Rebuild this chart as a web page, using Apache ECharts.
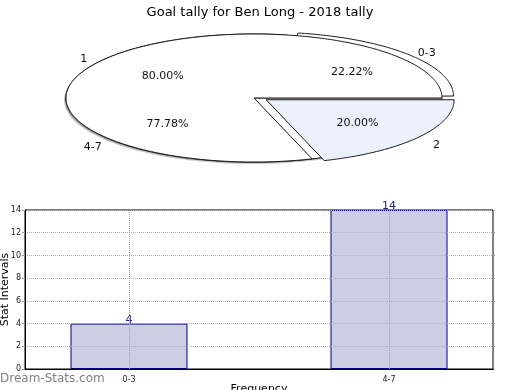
<!DOCTYPE html>
<html>
<head>
<meta charset="utf-8">
<script src="https://cdn.jsdelivr.net/npm/echarts@6/dist/echarts.min.js"></script>
<style>
html,body{margin:0;padding:0;background:#fff;}
#chart{width:520px;height:390px;}
</style>
</head>
<body>
<div id="chart"></div>
<script>
// ---- data ----
const chartTitle = 'Goal tally for Ben Long - 2018 tally';
const pieANames = ['0-3', '4-7'];
const pieAValues = [4, 14];
const pieBNames = ['1', '2'];
const pieBValues = [4, 1];
const barCategories = ['0-3', '4-7'];
const barValues = [4, 14];
const yAxisName = 'Stat Intervals';
const xAxisName = 'Frequency';
const watermark = 'Dream-Stats.com';

// ---- pie geometry (ellipse) ----
const CX = 254, CY = 98, RX = 188, RY = 64, EXPLODE = 15;
const FONT = '"DejaVu Sans", sans-serif';

function sliceGeom(values, i, explodeIdx) {
  const total = values.reduce((a, b) => a + b, 0);
  let start = 0;
  for (let j = 0; j < i; j++) start += values[j];
  const a0 = start / total * Math.PI * 2;
  const a1 = (start + values[i]) / total * Math.PI * 2;
  const mid = (a0 + a1) / 2;
  let ox = 0, oy = 0;
  if (explodeIdx.indexOf(i) >= 0) {
    ox = EXPLODE * Math.cos(mid);
    oy = -EXPLODE * Math.sin(mid) * 0.2;
  }
  return { cx: CX + ox, cy: CY + oy, a0, a1, mid, pct: values[i] / total * 100 };
}

function pieShapes(values, explodeIdx, fills) {
  return function (params, api) {
    const i = params.dataIndex;
    const g = sliceGeom(values, i, explodeIdx);
    const pts = [[g.cx, g.cy]];
    const steps = Math.max(2, Math.ceil((g.a1 - g.a0) / (Math.PI / 180)));
    for (let k = 0; k <= steps; k++) {
      const a = g.a0 + (g.a1 - g.a0) * k / steps;
      pts.push([g.cx + RX * Math.cos(a), g.cy - RY * Math.sin(a)]);
    }
    return {
      type: 'polygon',
      shape: { points: pts },
      style: { fill: fills[i], stroke: '#1a1a1a', lineWidth: 1 }
    };
  };
}

function pieLabels(values, names, explodeIdx) {
  return function (params, api) {
    const i = params.dataIndex;
    const g = sliceGeom(values, i, explodeIdx);
    const c = Math.cos(g.mid), s = Math.sin(g.mid);
    return {
      type: 'group',
      children: [
        { type: 'text', x: g.cx + RX * 0.6 * c, y: g.cy - RY * 0.6 * s + 1,
          style: { text: g.pct.toFixed(2) + '%', fill: '#111', font: '11px ' + FONT, align: 'center', verticalAlign: 'middle' } },
        { type: 'text', x: g.cx + RX * 1.12 * c, y: g.cy - RY * 1.12 * s + 3,
          style: { text: names[i], fill: '#111', font: '11px ' + FONT, align: 'center', verticalAlign: 'middle' } }
      ]
    };
  };
}

function shadowShape(offX, offY, color) {
  return function () {
    const pts = [];
    for (let k = 0; k <= 360; k += 2) {
      const a = k * Math.PI / 180;
      pts.push([CX + offX + RX * Math.cos(a), CY + offY - RY * Math.sin(a)]);
    }
    return { type: 'polygon', shape: { points: pts }, style: { fill: color } };
  };
}

const catIdx = barCategories.map((c, i) => i);

const chart = echarts.init(document.getElementById('chart'), null, { renderer: 'canvas' });
chart.setOption({
  animation: false,
  backgroundColor: '#fff',
  title: {
    text: chartTitle, left: 'center', top: 1,
    textStyle: { fontSize: 13, fontWeight: 'normal', color: '#000', fontFamily: FONT }
  },
  graphic: [{
    type: 'text', left: 0, top: 373,
    style: { text: watermark, fill: '#808080', font: '12px ' + FONT }
  }],
  grid: { left: 25, right: 27, top: 210, bottom: 21, outerBoundsMode: 'none', containLabel: false,
    show: true, borderColor: '#000', borderWidth: 1, backgroundColor: '#fff' },
  xAxis: {
    type: 'value', min: -0.4, max: 1.4, z: 5,
    axisLine: { show: true, onZero: false, lineStyle: { color: '#000', width: 1 } },
    axisTick: { show: false },
    splitLine: { show: false },
    axisLabel: { fontSize: 8, color: '#222', fontFamily: FONT, margin: 7,
      customValues: catIdx, formatter: v => barCategories[Math.round(v)] },
    name: xAxisName, nameLocation: 'middle', nameGap: 15, nameMoveOverlap: false,
    nameTextStyle: { fontSize: 11, color: '#000', fontFamily: FONT }
  },
  yAxis: [{
    type: 'value', min: 0, max: 14, interval: 2, z: 5,
    axisLine: { show: true, onZero: false, lineStyle: { color: '#000', width: 1 } },
    axisTick: { show: true, length: 3, lineStyle: { color: '#999' } },
    axisLabel: { fontSize: 8, color: '#222', fontFamily: FONT, margin: 4 },
    splitLine: { show: true, lineStyle: { type: 'dotted', color: '#b0b0b0', width: 1 } },
    name: yAxisName, nameLocation: 'middle', nameGap: 14, nameMoveOverlap: false,
    nameTextStyle: { fontSize: 11, color: '#000', fontFamily: FONT }
  }, {
    type: 'value', min: 0, max: 14, interval: 2, position: 'right',
    axisLine: { show: false, onZero: false },
    axisTick: { show: true, length: 2, lineStyle: { color: '#999' } },
    axisLabel: { show: false },
    splitLine: { show: false }
  }],
  series: [
    { type: 'custom', coordinateSystem: 'none', data: [[0]], renderItem: shadowShape(-2, 2, '#c8c8c8'), silent: true, z: 1 },
    { type: 'custom', coordinateSystem: 'none', data: [[0]], renderItem: shadowShape(-1, 1, '#8a8a8a'), silent: true, z: 1 },
    { type: 'custom', coordinateSystem: 'none', data: pieAValues.map(v => [v]),
      renderItem: pieShapes(pieAValues, [0], ['#ffffff', '#ffffff']), silent: true, z: 2 },
    { type: 'custom', coordinateSystem: 'none', data: pieBValues.map(v => [v]),
      renderItem: pieShapes(pieBValues, [1], ['#ffffff', '#ebf0fc']), silent: true, z: 2 },
    { type: 'custom', coordinateSystem: 'none', data: pieAValues.map(v => [v]),
      renderItem: pieLabels(pieAValues, pieANames, [0]), silent: true, z: 3 },
    { type: 'custom', coordinateSystem: 'none', data: pieBValues.map(v => [v]),
      renderItem: pieLabels(pieBValues, pieBNames, [1]), silent: true, z: 3 },
    {
      type: 'bar', data: barValues.map((v, i) => [catIdx[i], v]), barWidth: 117, z: 2,
      itemStyle: { color: '#cdcde4', borderColor: '#000080', borderWidth: 1 },
      label: { show: true, position: 'top', distance: -2, color: '#1a1a80', fontSize: 11, fontFamily: FONT,
        formatter: p => p.value[1] },
      markLine: {
        silent: true, symbol: 'none', label: { show: false },
        lineStyle: { type: 'dotted', color: '#a0a0a0', width: 1 },
        data: catIdx.map(i => ({ xAxis: i }))
      }
    }
  ]
});
</script>
</body>
</html>
